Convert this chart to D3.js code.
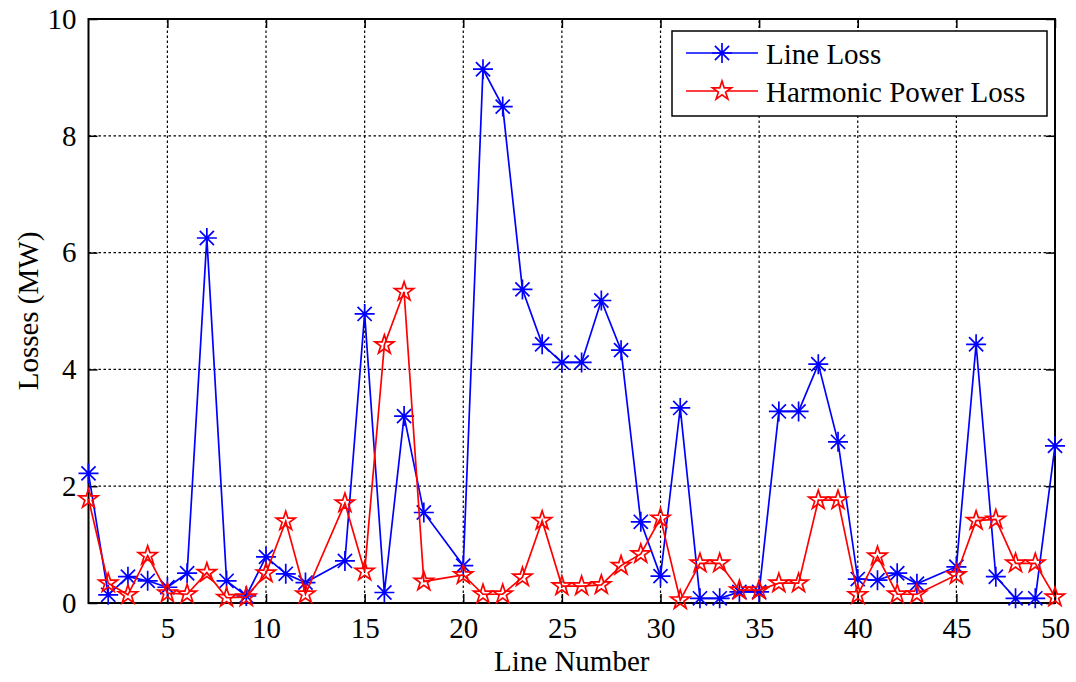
<!DOCTYPE html>
<html>
<head>
<meta charset="utf-8">
<script src="https://cdn.jsdelivr.net/npm/d3@7"></script>
</head>
<body style="margin:0">
<svg id="chart" width="1076" height="682"></svg>
<script>
// Line numbers (13, 19 and 44 are not plotted)
const lineNumbers = [1,2,3,4,5,6,7,8,9,10,11,12,14,15,16,17,18,20,21,22,23,24,25,26,27,28,29,30,
                     31,32,33,34,35,36,37,38,39,40,41,42,43,45,46,47,48,49,50]
const lineLoss = [2.22,0.14,0.45,0.38,0.27,0.51,6.25,0.38,0.12,0.79,0.50,0.35,0.72,4.95,0.18,3.20,1.55,0.64,
                  9.14,8.50,5.37,4.43,4.12,4.12,5.18,4.33,1.39,0.46,
                  3.34,0.08,0.08,0.19,0.19,3.28,3.28,4.09,2.76,0.41,0.39,0.51,0.33,0.62,4.43,0.45,0.08,0.08,2.69]
const harmonicLoss = [1.78,0.34,0.14,0.81,0.17,0.15,0.52,0.09,0.10,0.51,1.40,0.15,1.71,0.54,4.42,5.33,0.37,0.48,
                      0.15,0.15,0.44,1.41,0.29,0.29,0.31,0.64,0.84,1.45,
                      0.05,0.68,0.68,0.22,0.22,0.34,0.34,1.76,1.76,0.14,0.80,0.15,0.15,0.48,1.41,1.43,0.68,0.68,0.10]
const xTicks = [5,10,15,20,25,30,35,40,45,50]
const yTicks = [0,2,4,6,8,10]
const seriesNames = ['Line Loss', 'Harmonic Power Loss']

const svg = d3.select('#chart')
const margin = {left: 88.5, right: 21, top: 19, bottom: 79}
const width = 1076, height = 682
const fontSize = 29
const serif = 'Liberation Serif'

const x = d3.scaleLinear().domain([1, 50]).range([margin.left, width - margin.right])
const y = d3.scaleLinear().domain([0, 10]).range([height - margin.bottom, margin.top])

// grid
let grid = svg.append('g').attr('class', 'grid')
grid.selectAll('line.vgrid').data(xTicks).enter().append('line')
    .attr('x1', d => x(d)).attr('x2', d => x(d))
    .attr('y1', y(0)).attr('y2', y(10))
    .attr('stroke', '#000').attr('stroke-width', 1.2).attr('stroke-dasharray', '2.5,2.5')
grid.selectAll('line.hgrid').data(yTicks).enter().append('line')
    .attr('x1', x(1)).attr('x2', x(50))
    .attr('y1', d => y(d)).attr('y2', d => y(d))
    .attr('stroke', '#000').attr('stroke-width', 1.2).attr('stroke-dasharray', '2.5,2.5')

// axes with inward ticks on all four sides
const tickLen = 9
const axisStyle = g => {
  g.attr('font-family', null).attr('font-size', null)
  g.select('.domain').remove()
  g.selectAll('text').attr('font-family', serif).attr('font-size', fontSize).attr('fill', '#000')
  g.selectAll('line').attr('stroke', '#000').attr('stroke-width', 1.5)
}
svg.append('g').attr('transform', `translate(0,${y(0)})`)
   .call(d3.axisBottom(x).tickValues(xTicks).tickSize(-tickLen).tickPadding(14))
   .call(axisStyle)
svg.append('g').attr('transform', `translate(0,${y(10)})`)
   .call(d3.axisTop(x).tickValues(xTicks).tickSize(-tickLen).tickFormat(''))
   .call(axisStyle)
svg.append('g').attr('transform', `translate(${x(1)},0)`)
   .call(d3.axisLeft(y).tickValues(yTicks).tickSize(-tickLen).tickPadding(12))
   .call(axisStyle)
svg.append('g').attr('transform', `translate(${x(50)},0)`)
   .call(d3.axisRight(y).tickValues(yTicks).tickSize(-tickLen).tickFormat(''))
   .call(axisStyle)

svg.append('rect')
   .attr('x', x(1)).attr('y', y(10))
   .attr('width', x(50) - x(1)).attr('height', y(0) - y(10))
   .attr('fill', 'none').attr('stroke', '#000').attr('stroke-width', 2)

// axis titles
svg.append('text')
   .attr('x', (x(1) + x(50)) / 2).attr('y', 671)
   .attr('text-anchor', 'middle').attr('font-size', fontSize).attr('font-family', serif)
   .text('Line Number')
svg.append('text')
   .attr('transform', `translate(38,${(y(0) + y(10)) / 2}) rotate(-90)`)
   .attr('text-anchor', 'middle').attr('font-size', fontSize).attr('font-family', serif)
   .text('Losses (MW)')

// marker shapes
const asterisk = r => {
  let p = ''
  for (let i = 0; i < 4; i++) {
    const a = i * Math.PI / 4
    const dx = r * Math.cos(a), dy = r * Math.sin(a)
    p += `M${-dx},${-dy}L${dx},${dy}`
  }
  return p
}
const pentagram = r => {
  const ri = r * 0.382
  let pts = []
  for (let i = 0; i < 10; i++) {
    const a = -Math.PI / 2 + i * Math.PI / 5
    const rr = i % 2 === 0 ? r : ri
    pts.push([rr * Math.cos(a), rr * Math.sin(a)])
  }
  return 'M' + pts.map(p => p.join(',')).join('L') + 'Z'
}

const series = [
  {name: seriesNames[0], values: lineLoss, color: '#0000ff', marker: asterisk(10)},
  {name: seriesNames[1], values: harmonicLoss, color: '#ff0000', marker: pentagram(10)}
]

const line = d3.line().x(d => x(d[0])).y(d => y(d[1]))

let plot = svg.append('g').attr('class', 'series')
series.forEach(s => {
  const pts = lineNumbers.map((n, i) => [n, s.values[i]])
  let g = plot.append('g')
  g.append('path').datum(pts)
   .attr('d', line)
   .attr('fill', 'none').attr('stroke', s.color).attr('stroke-width', 1.7)
  g.selectAll('path.marker').data(pts).enter().append('path')
   .attr('class', 'marker')
   .attr('transform', d => `translate(${x(d[0])},${y(d[1])})`)
   .attr('d', s.marker)
   .attr('fill', 'none').attr('stroke', s.color).attr('stroke-width', 1.7)
})

// legend
let legend = svg.append('g').attr('class', 'legend')
legend.append('rect')
      .attr('x', 672).attr('y', 31).attr('width', 375).attr('height', 85)
      .attr('fill', '#fff').attr('stroke', '#000').attr('stroke-width', 1.5)
series.forEach((s, i) => {
  const ly = 53 + i * 38
  legend.append('line')
        .attr('x1', 686).attr('x2', 758).attr('y1', ly).attr('y2', ly)
        .attr('stroke', s.color).attr('stroke-width', 1.7)
  legend.append('path')
        .attr('transform', `translate(722,${ly})`)
        .attr('d', s.marker)
        .attr('fill', i === 1 ? '#fff' : 'none').attr('stroke', s.color).attr('stroke-width', 1.7)
  legend.append('text')
        .attr('x', 766).attr('y', ly + 11)
        .attr('font-size', fontSize).attr('font-family', serif)
        .text(s.name)
})
</script>
</body>
</html>
